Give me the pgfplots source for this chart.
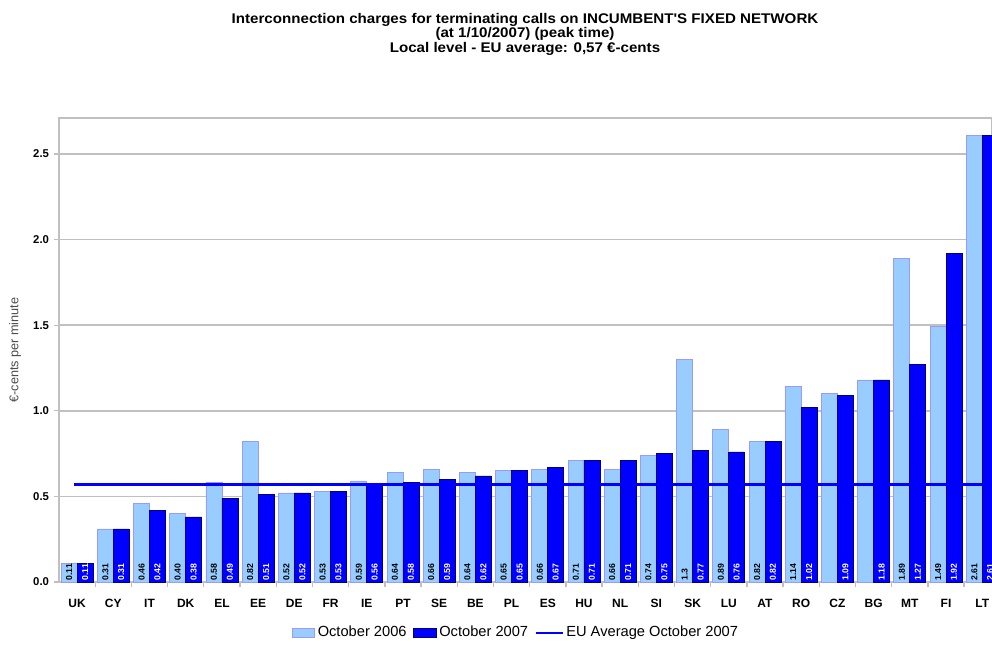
\documentclass[border=0pt]{standalone}
\usepackage{fontspec}
\setmainfont{Liberation Sans}
\newfontfamily\titlefont[FakeStretch=1.08]{Liberation Sans}
\usepackage{pgfplots}
\pgfplotsset{compat=1.18}

\definecolor{lightbar}{HTML}{99CCFF}
\definecolor{lightedge}{HTML}{9999FF}
\definecolor{darkbar}{HTML}{0000FF}
\definecolor{darkedge}{HTML}{000080}
\definecolor{gridgray}{HTML}{C0C0C0}

\newcommand\barlabelfont{\fontsize{6.5}{7}\selectfont\bfseries}

\pgfplotsset{
    barlegend/.style={legend image code/.code={\draw[##1] (0pt,-3.5pt) rectangle (17pt,3.5pt);}},
    linelegend/.style={legend image code/.code={\draw[##1, line width=1.6pt] (0pt,0pt) -- (20pt,0pt);}},
    barlabels/.style={nodes near coords, point meta=explicit symbolic,
        visualization depends on=y \as \rawy,
        every node near coord/.append style={shift={(axis direction cs:0,-\rawy)},
            rotate=90, anchor=west, inner sep=1pt, font=\barlabelfont, text=#1}},
}

\begin{document}
\begin{tikzpicture}
\begin{axis}[
    at={(0,0)}, anchor=south west,
    scale only axis,
    width=699.75pt, height=348pt,
    ybar=0pt, bar width=0.44,
    xmin=-0.5, xmax=25.27,
    ymin=0, ymax=2.71,
    xtick={0,...,25},
    xticklabels={UK,CY,IT,DK,EL,EE,DE,FR,IE,PT,SE,BE,PL,ES,HU,NL,SI,SK,LU,AT,RO,CZ,BG,MT,FI,LT},
    major x tick style={draw=none},
    minor xtick={0.5,1.5,...,24.5},
    minor tick length=4pt,
    ytick={0,0.5,...,2.5},
    major tick length=4pt,
    tick align=outside,
    xtick pos=left, ytick pos=left,
    tick style={gridgray, line width=1pt},
    ymajorgrids=true,
    grid style={gridgray, line width=1.2pt},
    axis line style={gridgray, line width=1.2pt},
    /pgf/number format/assume math mode=true,
    yticklabel style={font=\fontsize{8.5}{9}\selectfont\bfseries, xshift=0pt,
        /pgf/number format/.cd, fixed, fixed zerofill, precision=1},
    xticklabel style={font=\fontsize{9}{10}\selectfont\bfseries, yshift=-15pt,
        anchor=base, text height=6.5pt, text depth=0pt},
    ylabel={€-cents per minute},
    every axis y label/.style={at={(0,0.5)}, xshift=-33pt, rotate=90, anchor=center,
        font=\fontsize{9.5}{10}\selectfont, text=black!70},
    title={Interconnection charges for terminating calls on INCUMBENT'S FIXED NETWORK\\(at 1/10/2007) (peak time)\\Local level - EU average: 0,57 €-cents},
    title style={at={(0.4995,1)}, anchor=north, yshift=76pt, align=center,
        font=\titlefont\fontsize{10.5}{9.6}\selectfont\bfseries},
    legend style={at={(0.49,0)}, anchor=center, yshift=-38pt, draw=none, fill=none,
        legend columns=3, font=\fontsize{11}{12}\selectfont,
        /tikz/every even column/.append style={column sep=3pt}},
    clip=true,
]

\addplot[fill=lightbar, draw=lightedge, line width=0.6pt, bar shift=-0.22,
    barlegend, barlabels=black]
    coordinates {
    (0,0.11)[0.11] (1,0.31)[0.31] (2,0.46)[0.46] (3,0.40)[0.40] (4,0.58)[0.58]
    (5,0.82)[0.82] (6,0.52)[0.52] (7,0.53)[0.53] (8,0.59)[0.59] (9,0.64)[0.64]
    (10,0.66)[0.66] (11,0.64)[0.64] (12,0.65)[0.65] (13,0.66)[0.66] (14,0.71)[0.71]
    (15,0.66)[0.66] (16,0.74)[0.74] (17,1.30)[1.3] (18,0.89)[0.89] (19,0.82)[0.82]
    (20,1.14)[1.14] (21,1.10)[{}] (22,1.18)[{}] (23,1.89)[1.89] (24,1.49)[1.49]
    (25,2.61)[2.61]
    };

\addplot[fill=darkbar, draw=darkedge, line width=0.5pt, bar shift=0.22,
    barlegend, barlabels=white]
    coordinates {
    (0,0.11)[0.11] (1,0.31)[0.31] (2,0.42)[0.42] (3,0.38)[0.38] (4,0.49)[0.49]
    (5,0.51)[0.51] (6,0.52)[0.52] (7,0.53)[0.53] (8,0.57)[0.56] (9,0.58)[0.58]
    (10,0.60)[0.59] (11,0.62)[0.62] (12,0.65)[0.65] (13,0.67)[0.67] (14,0.71)[0.71]
    (15,0.71)[0.71] (16,0.75)[0.75] (17,0.77)[0.77] (18,0.76)[0.76] (19,0.82)[0.82]
    (20,1.02)[1.02] (21,1.09)[1.09] (22,1.18)[1.18] (23,1.27)[1.27] (24,1.92)[1.92]
    (25,2.61)[2.61]
    };

\addplot[sharp plot, darkbar, line width=2.4pt, linelegend]
    coordinates {(-0.08,0.57) (25.5,0.57)};

\legend{October 2006, October 2007, EU Average October 2007}
\end{axis}
\pgfresetboundingbox
\path (-44.25pt,-46.5pt) rectangle (699.75pt,436.5pt);
\end{tikzpicture}
\end{document}
